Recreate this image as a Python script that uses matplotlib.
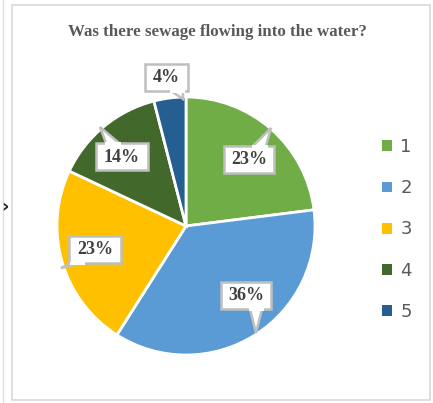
import numpy as np
import matplotlib.pyplot as plt
from matplotlib.patches import Polygon, Rectangle

# data
categories = ['1', '2', '3', '4', '5']
values = [23, 36, 23, 14, 4]
colors = ['#70AD47', '#5B9BD5', '#FFC000', '#43682B', '#255E91']
title = 'Was there sewage flowing into the water?'

W, H = 433, 403
fig = plt.figure(figsize=(W / 100, H / 100), dpi=100)
ax = fig.add_axes([0, 0, 1, 1])
ax.set_xlim(0, W)
ax.set_ylim(0, H)
ax.set_aspect('equal')
ax.axis('off')

def py(y):
    # pixel row -> data y
    return H - y

# chart frame
ax.add_patch(Rectangle((12, py(400)), 418, 395, fill=False, ec='#D9D9D9', lw=1.2))
ax.plot([3, 3], [py(0), py(403)], color='#E0E0E0', lw=1)
ax.text(1, py(207), '›', fontsize=13, fontweight='bold', color='#222222', ha='left', va='center')

ax.text(217, py(32), title, fontsize=12.2, fontweight='bold', family='Liberation Serif',
        color='#595959', ha='center', va='center')

wedges, _ = ax.pie(values, colors=colors, startangle=90, counterclock=False,
                   center=(186, py(226)), radius=129,
                   wedgeprops=dict(edgecolor='white', linewidth=2))
ax.set_xlim(0, W)
ax.set_ylim(0, H)

# callout boxes: (x0, y0, x1, y1) box in pixels, pointer base (a, b) and tip
boxes = [
    ((224, 146, 274, 173), ((253, 146), (266, 146)), (271, 128)),
    ((221, 282, 271, 309), ((250, 309), (262, 309)), (256, 333)),
    ((69, 236, 121, 263), ((71, 263), (83, 263)), (61, 268)),
    ((96, 143, 148, 170), ((106, 143), (119, 143)), (100, 127)),
    ((145, 64, 188, 91), ((171, 91), (183, 91)), (183, 99)),
]
for v, (box, base, tip) in zip(values, boxes):
    x0, y0, x1, y1 = box
    ax.add_patch(Rectangle((x0, py(y1)), x1 - x0, y1 - y0, fc='white', ec='#BFBFBF', lw=1.8, zorder=5))
    tri = [(base[0][0], py(base[0][1])), (tip[0], py(tip[1])), (base[1][0], py(base[1][1]))]
    ax.add_patch(Polygon(tri, closed=False, fc='white', ec='#BFBFBF', lw=1.8, zorder=6))
    ax.plot([base[0][0], base[1][0]], [py(base[0][1]), py(base[1][1])], color='white', lw=2.2, zorder=7)
    ax.text((x0 + x1) / 2, py((y0 + y1) / 2) - 0.5, f'{v}%', fontsize=13, fontweight='bold',
            family='Liberation Serif', color='#404040', ha='center', va='center', zorder=8)

leg = ax.legend(wedges, categories, loc='upper left', bbox_to_anchor=(366 / W, 1 - 122 / H),
                frameon=False, fontsize=13, handlelength=0.55, handleheight=0.55,
                handletextpad=0.45, labelspacing=1.28)
for t in leg.get_texts():
    t.set_color('#595959')
for h in leg.legend_handles:
    h.set_edgecolor('none')

fig.savefig('out.png', dpi=100)
